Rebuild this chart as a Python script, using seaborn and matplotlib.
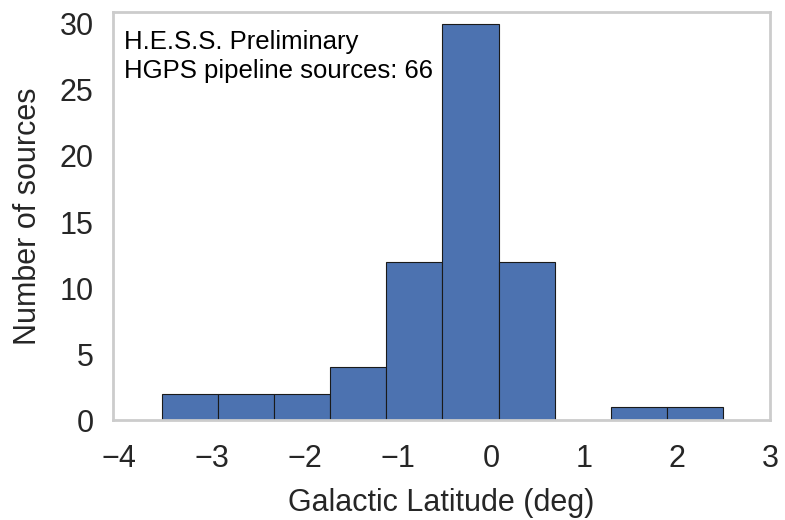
import numpy as np
import pandas as pd
import matplotlib
matplotlib.use("Agg")
import matplotlib.pyplot as plt
import seaborn as sns

# Histogram data
bin_edges = [-3.53, -2.928, -2.326, -1.724, -1.122, -0.52, 0.082, 0.684, 1.286, 1.888, 2.49]
counts = [2, 2, 2, 4, 12, 30, 12, 0, 1, 1]
x_ticks = [-4, -3, -2, -1, 0, 1, 2, 3]
y_ticks = [0, 5, 10, 15, 20, 25, 30]
annotation = "H.E.S.S. Preliminary\nHGPS pipeline sources: 66"

centers = [(a + b) / 2 for a, b in zip(bin_edges[:-1], bin_edges[1:])]
df = pd.DataFrame({"lat": centers, "n": counts})

sns.set_theme(style="white")
plt.rcParams["font.family"] = ["Liberation Sans", "DejaVu Sans"]
plt.rcParams["text.color"] = "#262626"
plt.rcParams["axes.labelcolor"] = "#262626"
plt.rcParams["xtick.color"] = "#262626"
plt.rcParams["ytick.color"] = "#262626"

fig = plt.figure(figsize=(7.85, 5.2), dpi=100)
ax = fig.add_axes([0.144, 0.192, 0.837, 0.785])

sns.histplot(data=df, x="lat", weights="n", bins=bin_edges, ax=ax,
             color="#4C72B0", alpha=1.0, edgecolor="#1a1a1a", linewidth=0.8)

ax.set_xlim(-4.06, 3.0)
ax.set_ylim(0, 30.9)
ax.set_xticks(x_ticks)
ax.set_yticks(y_ticks)
ax.set_xticklabels(["\u2212" + str(-t) if t < 0 else str(t) for t in x_ticks])
ax.tick_params(axis="x", labelsize=22, length=0, pad=17)
ax.tick_params(axis="y", labelsize=22, length=0, pad=14)
ax.set_xlabel("Galactic Latitude (deg)", fontsize=22, labelpad=10)
ax.set_ylabel("Number of sources", fontsize=22, labelpad=12)

for s in ax.spines.values():
    s.set_color("#cccccc")
    s.set_linewidth(2.0)

ax.text(0.016, 0.955, annotation, transform=ax.transAxes, fontsize=18.5,
        va="top", ha="left", linespacing=1.22, color="black")

fig.savefig("out.png", dpi=100)
